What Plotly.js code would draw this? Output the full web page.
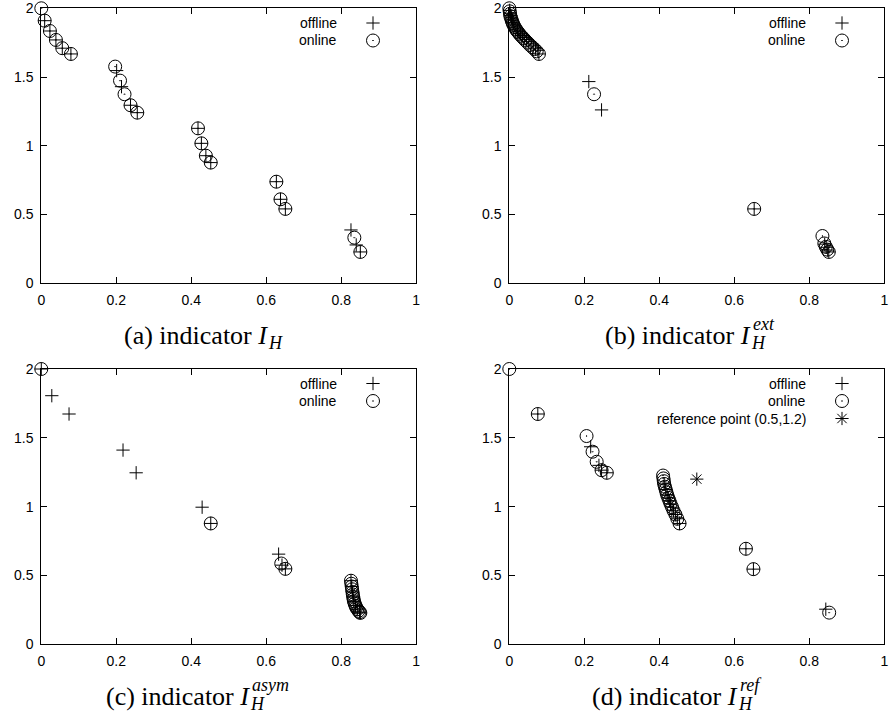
<!DOCTYPE html>
<html>
<head>
<meta charset="utf-8">
<script src="https://cdn.plot.ly/plotly-3.0.1.min.js"></script>
<style>html,body{margin:0;padding:0;background:#fff}#chart{width:889px;height:719px}</style>
</head>
<body>
<div id="chart"></div>
<script>
// ---------- data ----------
const xTickVals = [0, 0.2, 0.4, 0.6, 0.8, 1];
const xTickText = ['0', '0.2', '0.4', '0.6', '0.8', '1'];
const yTickVals = [0, 0.5, 1, 1.5, 2];
const yTickText = ['0', '0.5', '1', '1.5', '2'];
const legendNames = ['offline', 'online', 'reference point (0.5,1.2)'];
const captions = ['(a) indicator ', '(b) indicator ', '(c) indicator ', '(d) indicator '];
const captionSup = ['', 'ext', 'asym', 'ref'];

// (a) indicator I_H
const aOnX  = [0.000,0.009,0.023,0.039,0.056,0.079,0.197,0.210,0.222,0.238,0.256,0.418,0.427,0.439,0.452,0.627,0.638,0.651,0.835,0.851];
const aOnY  = [2.000,1.910,1.835,1.770,1.710,1.668,1.576,1.474,1.375,1.295,1.241,1.127,1.018,0.928,0.878,0.739,0.611,0.541,0.332,0.228];
const aOffX = [0.009,0.023,0.039,0.056,0.079,0.201,0.214,0.238,0.256,0.418,0.427,0.439,0.452,0.627,0.638,0.651,0.826,0.840,0.851];
const aOffY = [1.910,1.835,1.770,1.710,1.668,1.547,1.430,1.295,1.241,1.127,1.018,0.928,0.878,0.739,0.611,0.541,0.388,0.279,0.228];

// (b) indicator I_H^ext
const bOnX  = [0.000,0.001,0.002,0.003,0.005,0.007,0.009,0.011,0.014,0.017,0.020,0.024,0.028,0.033,0.038,0.043,0.049,0.055,0.061,0.067,0.073,0.079,0.226,0.653,0.835,0.840,0.844,0.848,0.852];
const bOnY  = [2.000,1.978,1.960,1.942,1.925,1.908,1.893,1.880,1.865,1.850,1.838,1.825,1.810,1.795,1.781,1.766,1.750,1.733,1.718,1.703,1.687,1.668,1.375,0.541,0.344,0.290,0.265,0.245,0.228];
const bOffX = [0.001,0.002,0.004,0.006,0.008,0.010,0.012,0.015,0.018,0.022,0.026,0.030,0.035,0.040,0.046,0.052,0.058,0.064,0.070,0.076,0.079,0.212,0.246,0.653,0.841,0.845,0.849,0.852];
const bOffY = [1.985,1.965,1.948,1.930,1.914,1.899,1.886,1.872,1.857,1.843,1.830,1.816,1.802,1.788,1.773,1.758,1.741,1.726,1.710,1.695,1.668,1.467,1.261,0.541,0.285,0.262,0.242,0.228];

// (c) indicator I_H^asym
const cOnX  = [0.000,0.452,0.640,0.651,0.826,0.827,0.828,0.829,0.830,0.831,0.832,0.833,0.834,0.836,0.838,0.840,0.843,0.846,0.849,0.851];
const cOnY  = [2.000,0.878,0.587,0.548,0.462,0.440,0.420,0.400,0.380,0.362,0.345,0.328,0.312,0.296,0.281,0.268,0.255,0.243,0.234,0.228];
const cOffX = [0.000,0.028,0.074,0.218,0.253,0.429,0.452,0.633,0.642,0.651,0.826,0.828,0.830,0.832,0.834,0.838,0.843,0.849,0.851];
const cOffY = [2.000,1.806,1.673,1.411,1.246,0.996,0.878,0.655,0.575,0.548,0.462,0.420,0.380,0.345,0.312,0.281,0.255,0.234,0.228];

// (d) indicator I_H^ref
const dOnX  = [0.000,0.076,0.206,0.222,0.233,0.246,0.260,0.410,0.411,0.412,0.413,0.415,0.417,0.419,0.421,0.424,0.427,0.430,0.434,0.438,0.443,0.448,0.454,0.631,0.651,0.853];
const dOnY  = [2.000,1.673,1.513,1.399,1.326,1.265,1.246,1.226,1.205,1.185,1.165,1.145,1.125,1.105,1.085,1.064,1.043,1.020,0.996,0.970,0.943,0.912,0.878,0.694,0.546,0.230];
const dOffX = [0.076,0.217,0.239,0.246,0.260,0.413,0.417,0.421,0.424,0.427,0.430,0.434,0.438,0.443,0.448,0.454,0.631,0.651,0.844];
const dOffY = [1.673,1.435,1.300,1.265,1.246,1.165,1.125,1.085,1.064,1.043,1.020,0.996,0.970,0.943,0.912,0.878,0.694,0.546,0.255];
const refX = [0.5];
const refY = [1.2];

// ---------- layout geometry (pixels) ----------
const W = 889, H = 719;
const px = v => v / W;
const py = v => 1 - v / H;
const cols = [[41.3, 416.2], [509.3, 884.3]];
const rows = [[8.3, 283.3], [369.0, 644.3]];
const panels = [
  {c: 0, r: 0, on: [aOnX, aOnY], off: [aOffX, aOffY]},
  {c: 1, r: 0, on: [bOnX, bOnY], off: [bOffX, bOffY]},
  {c: 0, r: 1, on: [cOnX, cOnY], off: [cOffX, cOffY]},
  {c: 1, r: 1, on: [dOnX, dOnY], off: [dOffX, dOffY], ref: [refX, refY]}
];
const capRight = [270, 753, 252, 740];

const tickFont = {family: 'Liberation Sans, Arial, sans-serif', size: 14, color: '#000'};
const capFont = {family: 'Liberation Serif, Times New Roman, serif', size: 26, color: '#000'};
const subFont = {family: 'Liberation Serif, Times New Roman, serif', size: 18, color: '#000'};

const offMarker = {symbol: 'cross-thin-open', size: 9.5, color: '#000', line: {width: 1, color: '#000'}};
const onMarker  = {symbol: 'circle-open-dot', size: 13, color: '#000', line: {width: 1, color: '#000'}};
const refMarker = {symbol: 'asterisk-open', size: 11, color: '#000', line: {width: 1, color: '#000'}};

const traces = [];
const layout = {
  width: W, height: H,
  margin: {l: 0, r: 0, t: 0, b: 0},
  paper_bgcolor: '#fff', plot_bgcolor: '#fff',
  showlegend: true,
  annotations: []
};

let legendCount = 0;
function addLegend(symX, rowY) {
  legendCount++;
  const key = legendCount === 1 ? 'legend' : 'legend' + legendCount;
  layout[key] = {
    x: px(symX - 20), y: py(rowY - 14.5), xanchor: 'left', yanchor: 'top',
    bgcolor: 'rgba(0,0,0,0)', borderwidth: 0,
    font: {family: 'Liberation Sans, Arial, sans-serif', size: 12, color: '#000'}
  };
  return key;
}

panels.forEach((p, i) => {
  const n = i + 1;
  const xa = 'xaxis' + (n === 1 ? '' : n), ya = 'yaxis' + (n === 1 ? '' : n);
  const xr = 'x' + (n === 1 ? '' : n), yr = 'y' + (n === 1 ? '' : n);
  const [x0, x1] = cols[p.c], [y0, y1] = rows[p.r];
  const axBase = {
    showgrid: false, zeroline: false, showline: true, linecolor: '#000', linewidth: 1,
    mirror: 'allticks', ticks: 'inside', ticklen: 6, tickwidth: 1, tickcolor: '#000',
    tickfont: tickFont, fixedrange: true, ticklabelstandoff: 4
  };
  layout[xa] = Object.assign({}, axBase, {
    domain: [px(x0), px(x1)], range: [0, 1], anchor: yr,
    tickmode: 'array', tickvals: xTickVals, ticktext: xTickText
  });
  layout[ya] = Object.assign({}, axBase, {
    domain: [py(y1), py(y0)], range: [0, 2], anchor: xr,
    tickmode: 'array', tickvals: yTickVals, ticktext: yTickText
  });

  const symX = p.c === 0 ? 373 : 842;
  const textR = p.c === 0 ? 339 : 808;
  const rowTop = p.r === 0 ? 23 : 383.5;
  const series = [['off', offMarker], ['on', onMarker]];
  if (p.ref) series.push(['ref', refMarker]);
  series.forEach(([k, mk], j) => {
    const rowY = rowTop + j * 17.5;
    const lg = addLegend(symX, rowY);
    traces.push({
      type: 'scatter', mode: 'markers', x: p[k][0], y: p[k][1],
      xaxis: xr, yaxis: yr, name: ' ', legend: lg, cliponaxis: false,
      marker: mk, hoverinfo: 'x+y'
    });
    layout.annotations.push({
      xref: 'paper', yref: 'paper', x: px(textR), y: py(rowY),
      xanchor: 'right', yanchor: 'middle', showarrow: false,
      text: legendNames[j], font: {family: 'Liberation Sans, Arial, sans-serif', size: 14, color: '#000'}
    });
  });

  // caption
  const capY = rows[p.r][1] + 52;
  const P = capRight[i];
  layout.annotations.push({
    xref: 'paper', yref: 'paper', x: px(P), y: py(capY),
    xanchor: 'right', yanchor: 'middle', showarrow: false,
    text: captions[i] + '<i>I</i>', font: capFont
  });
  layout.annotations.push({
    xref: 'paper', yref: 'paper', x: px(P - 4), y: py(capY + 8),
    xanchor: 'left', yanchor: 'middle', showarrow: false,
    text: '<i>H</i>', font: subFont
  });
  if (captionSup[i]) {
    layout.annotations.push({
      xref: 'paper', yref: 'paper', x: px(P - 2), y: py(capY - 11),
      xanchor: 'left', yanchor: 'middle', showarrow: false,
      text: '<i>' + captionSup[i] + '</i>', font: subFont
    });
  }
});

Plotly.newPlot('chart', traces, layout, {displayModeBar: false, staticPlot: true});
</script>
</body>
</html>
